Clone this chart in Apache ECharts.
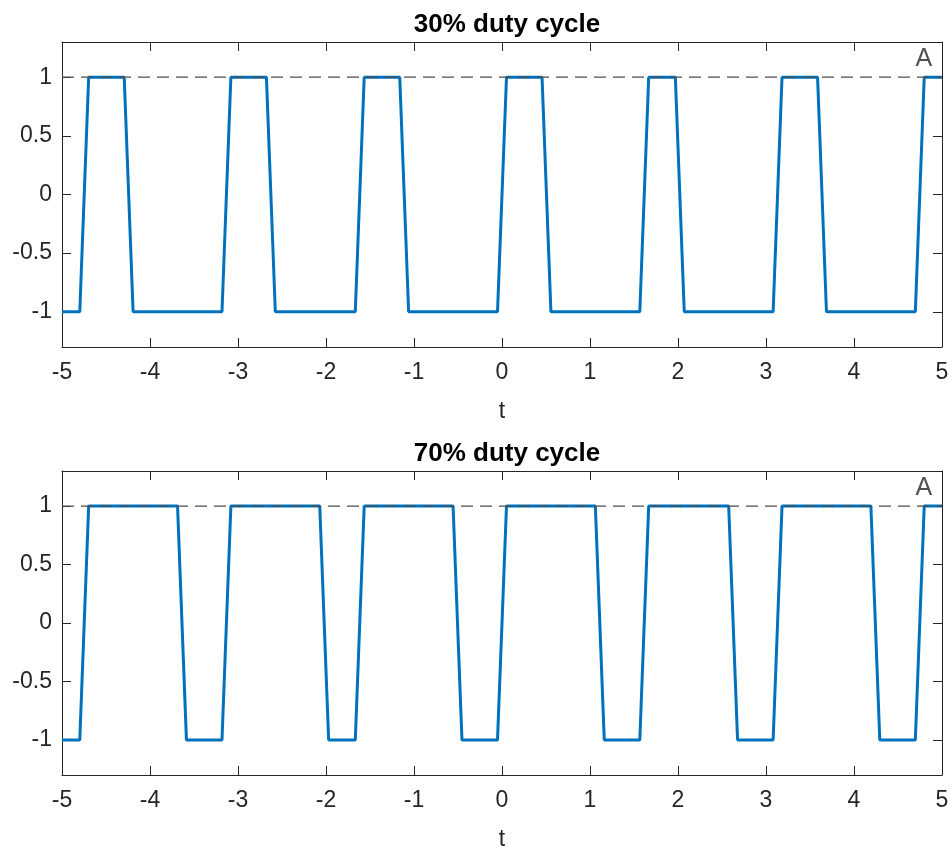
<!DOCTYPE html>
<html>
<head>
<meta charset="utf-8">
<script src="https://cdn.jsdelivr.net/npm/echarts@6/dist/echarts.min.js"></script>
<style>
  html, body { margin: 0; padding: 0; background: #fff; }
  #main { width: 952px; height: 852px; }
</style>
</head>
<body>
<div id="main"></div>
<script>
var t30 = [-5, -4.798, -4.697, -4.293, -4.192, -3.182, -3.081, -2.677, -2.576, -1.667, -1.566, -1.162, -1.061, -0.051,
  0.051, 0.455, 0.556, 1.566, 1.667, 1.970, 2.071, 3.081, 3.182, 3.586, 3.687, 4.697, 4.798, 5];
var y30 = [-1, -1, 1, 1, -1, -1, 1, 1, -1, -1, 1, 1, -1, -1, 1, 1, -1, -1, 1, 1, -1, -1, 1, 1, -1, -1, 1, 1];

var t70 = [-5, -4.798, -4.697, -3.687, -3.586, -3.182, -3.081, -2.071, -1.970, -1.667, -1.566, -0.556, -0.455, -0.051,
  0.051, 1.061, 1.162, 1.566, 1.667, 2.576, 2.677, 3.081, 3.182, 4.192, 4.293, 4.697, 4.798, 5];
var y70 = [-1, -1, 1, 1, -1, -1, 1, 1, -1, -1, 1, 1, -1, -1, 1, 1, -1, -1, 1, 1, -1, -1, 1, 1, -1, -1, 1, 1];

var titles = ['30% duty cycle', '70% duty cycle'];
var yTicks = [-1, -0.5, 0, 0.5, 1];
var ampLevel = 1;       // dashed line at A
var ampLabel = 'A';
var ampLabelPos = [4.7, 1.15];
var tRange = [-5, 5];
var yRange = [-1.3, 1.3];

var FONT = 'Liberation Sans, Arial, Helvetica, sans-serif';
var AXIS = '#262626';

function pairs(xs, ys) {
  return xs.map(function (x, i) { return [x, ys[i]]; });
}

function xAxisFor(grid, pos) {
  var bottom = pos === 'bottom';
  return {
    type: 'value',
    gridIndex: grid,
    position: pos,
    min: tRange[0],
    max: tRange[1],
    interval: 1,
    name: bottom ? 't' : '',
    nameLocation: 'middle',
    nameGap: 53,
    nameTextStyle: { fontFamily: FONT, fontSize: 23, color: AXIS },
    axisLine: { show: true, onZero: false, lineStyle: { color: AXIS, width: 1 } },
    axisTick: { show: true, inside: true, length: 9, lineStyle: { color: AXIS } },
    axisLabel: { show: bottom, margin: 14, fontFamily: FONT, fontSize: 23, color: AXIS },
    splitLine: { show: false }
  };
}

function yAxisFor(grid, pos) {
  var left = pos === 'left';
  return {
    type: 'value',
    gridIndex: grid,
    position: pos,
    min: yRange[0],
    max: yRange[1],
    axisLine: { show: true, onZero: false, lineStyle: { color: AXIS, width: 1 } },
    axisTick: { show: true, inside: true, length: 9, customValues: yTicks, lineStyle: { color: AXIS } },
    axisLabel: { show: left, margin: 10, customValues: yTicks, fontFamily: FONT, fontSize: 23, color: AXIS },
    splitLine: { show: false }
  };
}

function seriesFor(k, ts, ys) {
  return [
    {
      type: 'line',
      xAxisIndex: k * 2,
      yAxisIndex: k * 2,
      data: pairs(ts, ys),
      showSymbol: false,
      animation: false,
      lineStyle: { color: '#0072BD', width: 3 },
      z: 2
    },
    {
      type: 'line',
      xAxisIndex: k * 2,
      yAxisIndex: k * 2,
      data: [[tRange[0], ampLevel], [tRange[1], ampLevel]],
      showSymbol: false,
      animation: false,
      lineStyle: { color: '#4d4d4d', width: 1.2, type: [12, 7] },
      z: 3
    },
    {
      type: 'scatter',
      xAxisIndex: k * 2,
      yAxisIndex: k * 2,
      data: [ampLabelPos],
      symbolSize: 0,
      animation: false,
      label: {
        show: true,
        position: 'right',
        distance: 0,
        formatter: ampLabel,
        fontFamily: FONT,
        fontSize: 25,
        color: AXIS
      }
    }
  ];
}

var chartDom = document.getElementById('main');
var myChart = echarts.init(chartDom, null, { renderer: 'canvas' });
var option;

option = {
  backgroundColor: '#fff',
  animation: false,
  title: [
    { text: titles[0], left: 502, top: 7, textAlign: 'center',
      textStyle: { fontFamily: FONT, fontSize: 26, fontWeight: 'bold', color: '#000' } },
    { text: titles[1], left: 502, top: 436, textAlign: 'center',
      textStyle: { fontFamily: FONT, fontSize: 26, fontWeight: 'bold', color: '#000' } }
  ],
  grid: [
    { left: 62, right: 10, top: 42, height: 305 },
    { left: 62, right: 10, top: 471, height: 306 }
  ],
  xAxis: [xAxisFor(0, 'bottom'), xAxisFor(0, 'top'), xAxisFor(1, 'bottom'), xAxisFor(1, 'top')],
  yAxis: [yAxisFor(0, 'left'), yAxisFor(0, 'right'), yAxisFor(1, 'left'), yAxisFor(1, 'right')],
  series: seriesFor(0, t30, y30).concat(seriesFor(1, t70, y70))
};

option && myChart.setOption(option);
</script>
</body>
</html>
